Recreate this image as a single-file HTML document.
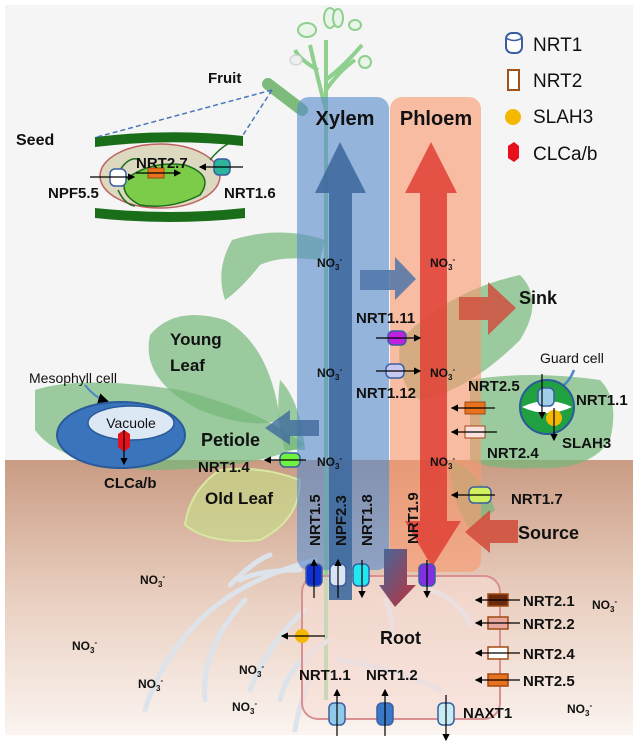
<!DOCTYPE html>
<html><head><meta charset="utf-8"><style>
html,body{margin:0;padding:0;background:#fff}
svg{display:block}
text{font-family:"Liberation Sans",sans-serif}
.b{font-weight:bold;font-size:15px;fill:#111}
.n{font-size:12px;fill:#111;font-weight:bold}
</style></head><body>
<svg width="640" height="748" viewBox="0 0 640 748" xmlns="http://www.w3.org/2000/svg">
<defs>
<linearGradient id="soil" x1="0" y1="0" x2="0" y2="1">
<stop offset="0" stop-color="#c99b83"/><stop offset="0.5" stop-color="#e9cfc0"/><stop offset="1" stop-color="#fbf4f0"/>
</linearGradient>
<linearGradient id="dn" x1="0" y1="0" x2="1" y2="1">
<stop offset="0" stop-color="#3f6a9e"/><stop offset="1" stop-color="#c0303a"/>
</linearGradient>
<marker id="ah" markerWidth="6" markerHeight="6" refX="5" refY="3" orient="auto"><path d="M0,0 L6,3 L0,6z" fill="#000"/></marker>
</defs>
<rect x="0" y="0" width="640" height="748" fill="#fff"/>
<rect x="5" y="5" width="628" height="456" fill="#f5f5f5"/>
<rect x="5" y="460" width="628" height="275" fill="url(#soil)"/>

<!-- stem & flowers -->
<g stroke="#8fd08f" stroke-width="4" fill="none">
<path d="M326,40 L326,700"/>
<path d="M326,110 Q318,80 310,45"/><path d="M326,90 Q340,70 355,60"/><path d="M326,80 Q345,65 362,45"/>
<path d="M318,70 Q300,60 295,50"/>
</g>
<g fill="#e8f5e8" stroke="#8fd08f" stroke-width="2">
<ellipse cx="307" cy="30" rx="9" ry="7"/><ellipse cx="330" cy="18" rx="6" ry="10"/><ellipse cx="338" cy="18" rx="5" ry="9"/>
<ellipse cx="355" cy="25" rx="6" ry="5"/><ellipse cx="365" cy="62" rx="6" ry="6"/>
</g>
<ellipse cx="296" cy="60" rx="6" ry="5" fill="#eee" stroke="#ccc"/>
<!-- fruit capsule -->
<path d="M268,84 L302,110" stroke="#7dbb7d" stroke-width="12" stroke-linecap="round"/>

<!-- leaves -->
<g fill="#74b878" fill-opacity="0.7">
<path d="M232,240 Q280,225 325,240 L320,260 Q280,255 260,265 Q240,290 225,300 Q215,270 232,240z"/>
<path d="M150,335 Q175,305 225,320 Q270,345 280,420 Q250,430 200,410 Q140,380 150,335z"/>
<path d="M35,390 Q80,375 180,390 Q260,410 305,445 Q250,470 150,470 Q60,465 35,430z"/>
<path d="M280,380 Q300,400 305,450 L285,450 Q275,420 280,380z"/>
<path d="M400,340 Q450,290 520,275 Q545,300 520,340 Q470,390 420,400 Q395,385 400,340z"/>
<path d="M470,380 Q530,370 600,380 Q620,400 610,440 Q590,470 540,468 Q490,470 470,460z"/>
<path d="M450,460 Q480,470 495,510 L470,530 Q450,500 450,460z"/>
</g>
<path d="M220,470 Q260,465 300,480 Q300,520 260,540 Q210,545 185,525 Q190,490 220,470z" fill="#c8d88a" fill-opacity="0.7" stroke="#d8e8a0" stroke-width="2"/>

<!-- roots -->
<g stroke="#dde3ea" stroke-width="5" fill="none" stroke-linecap="round">
<path d="M315,560 Q240,580 200,620 Q160,660 145,710"/>
<path d="M300,570 Q260,570 240,580"/>
<path d="M245,600 Q200,650 205,700"/>
<path d="M305,610 Q270,640 250,690"/>
<path d="M330,640 Q290,660 280,700"/>
<path d="M310,680 Q300,700 295,730"/>
<path d="M340,660 Q400,670 440,690"/>
<path d="M430,590 Q460,600 470,625"/>
<path d="M385,600 Q395,620 390,640"/>
<path d="M230,585 Q255,560 270,555"/>
</g>

<!-- root box -->
<rect x="302" y="576" width="198" height="143" rx="16" fill="#f8ddd6" fill-opacity="0.55" stroke="#d89090" stroke-width="2"/>

<!-- xylem / phloem -->
<rect x="297" y="97" width="92" height="473" rx="12" fill="#5b8ccc" fill-opacity="0.62"/>
<rect x="390" y="97" width="91" height="475" rx="12" fill="#fa9a70" fill-opacity="0.62"/>
<text x="345" y="125" text-anchor="middle" style="font-weight:bold;font-size:20px" fill="#111">Xylem</text>
<text x="436" y="125" text-anchor="middle" style="font-weight:bold;font-size:20px" fill="#111">Phloem</text>

<!-- blue arrow up -->
<path d="M329,600 L329,193 L315,193 L340,142 L366,193 L352,193 L352,600z" fill="#3f6a9e" fill-opacity="0.9"/>
<!-- red double arrow -->
<path d="M420,521 L420,193 L405,193 L431,142 L457,193 L447,193 L447,521 L461,521 L432,567 L405,521z" fill="#e0463a" fill-opacity="0.9"/>
<!-- horizontal blue arrow -->
<path d="M360,270 L395,270 L395,257 L416,279 L395,300 L395,290 L360,290z" fill="#4f74a8" fill-opacity="0.85"/>
<!-- sink arrow -->
<path d="M459,297 L488,297 L488,282 L516,308 L488,335 L488,320 L459,320z" fill="#d0503e" fill-opacity="0.85"/>
<!-- petiole arrow -->
<path d="M319,420 L290,420 L290,410 L265,428 L290,445 L290,436 L319,436z" fill="#3f6a9e" fill-opacity="0.8"/>
<!-- source arrow -->
<path d="M518,520 L490,520 L490,510 L465,532 L490,553 L490,543 L518,543z" fill="#d0503e" fill-opacity="0.9"/>
<!-- dark down arrow -->
<path d="M384,549 L407,549 L407,585 L416,585 L395,607 L379,585 L384,585z" fill="url(#dn)"/>

<!-- seed -->
<path d="M95,137 Q170,128 243,136 L243,146 Q170,138 95,147z" fill="#1a6e1a"/>
<path d="M95,208 Q170,216 245,208 L245,218 Q170,226 95,218z" fill="#1a6e1a"/>
<ellipse cx="160" cy="176" rx="60" ry="32" fill="#ddd8c0" stroke="#c06060" stroke-width="1.5"/>
<path d="M125,180 Q150,160 185,165 Q215,175 200,195 Q170,210 140,205 Q120,195 125,180z" fill="#7ccc4a" stroke="#1a6e1a" stroke-width="1.5"/>
<path d="M120,170 Q130,155 140,160 M118,190 Q125,205 135,206 M210,160 Q220,148 228,144" stroke="#1a6e1a" stroke-width="1.5" fill="none"/>
<line x1="272" y1="90" x2="97" y2="137" stroke="#4a78b8" stroke-width="1.5" stroke-dasharray="5,3"/>
<line x1="272" y1="90" x2="243" y2="135" stroke="#4a78b8" stroke-width="1.5" stroke-dasharray="5,3"/>
<g stroke="#3a5fa0" stroke-width="1.5">
<rect x="110" y="169" width="16" height="17" rx="5" fill="#fff"/>
<rect x="214" y="159" width="16" height="16" rx="5" fill="#2bb59a"/>
</g>
<rect x="148" y="168" width="16" height="10" fill="#e8731e" stroke="#a04a10"/>
<line x1="90" y1="177" x2="134" y2="177" stroke="#000" stroke-width="1.2" marker-end="url(#ah)"/>
<line x1="136" y1="173" x2="180" y2="173" stroke="#000" stroke-width="1.2" marker-end="url(#ah)"/>
<line x1="243" y1="167" x2="200" y2="167" stroke="#000" stroke-width="1.2" marker-end="url(#ah)"/>
<text x="16" y="145" class="b" style="font-size:16px">Seed</text>
<text x="208" y="83" class="b">Fruit</text>
<text x="136" y="168" class="b">NRT2.7</text>
<text x="48" y="198" class="b">NPF5.5</text>
<text x="224" y="198" class="b">NRT1.6</text>

<!-- legend -->
<rect x="506" y="33" width="16" height="20" rx="6" fill="#fff" stroke="#3a5fa0" stroke-width="2"/>
<path d="M506,38 Q514,43 522,38" stroke="#3a5fa0" stroke-width="1.5" fill="none"/>
<rect x="508" y="70" width="11" height="20" fill="#fff" stroke="#a0521e" stroke-width="2"/>
<circle cx="513" cy="117" r="8" fill="#f5b800"/>
<path d="M508,146 L514,142 L519,146 L519,158 L514,162 L508,158z" fill="#e8101a"/>
<g style="font-size:19px" fill="#111">
<text x="533" y="51">NRT1</text><text x="533" y="87">NRT2</text><text x="533" y="123">SLAH3</text><text x="533" y="160">CLCa/b</text>
</g>

<!-- NO3 labels -->
<g class="n">
<text x="317" y="267">NO<tspan font-size="8" dy="3">3</tspan><tspan font-size="8" dy="-8">-</tspan></text>
<text x="430" y="267">NO<tspan font-size="8" dy="3">3</tspan><tspan font-size="8" dy="-8">-</tspan></text>
<text x="317" y="377">NO<tspan font-size="8" dy="3">3</tspan><tspan font-size="8" dy="-8">-</tspan></text>
<text x="430" y="377">NO<tspan font-size="8" dy="3">3</tspan><tspan font-size="8" dy="-8">-</tspan></text>
<text x="317" y="466">NO<tspan font-size="8" dy="3">3</tspan><tspan font-size="8" dy="-8">-</tspan></text>
<text x="430" y="466">NO<tspan font-size="8" dy="3">3</tspan><tspan font-size="8" dy="-8">-</tspan></text>
<text x="140" y="584">NO<tspan font-size="8" dy="3">3</tspan><tspan font-size="8" dy="-8">-</tspan></text>
<text x="72" y="650">NO<tspan font-size="8" dy="3">3</tspan><tspan font-size="8" dy="-8">-</tspan></text>
<text x="138" y="688">NO<tspan font-size="8" dy="3">3</tspan><tspan font-size="8" dy="-8">-</tspan></text>
<text x="239" y="674">NO<tspan font-size="8" dy="3">3</tspan><tspan font-size="8" dy="-8">-</tspan></text>
<text x="232" y="711">NO<tspan font-size="8" dy="3">3</tspan><tspan font-size="8" dy="-8">-</tspan></text>
<text x="592" y="609">NO<tspan font-size="8" dy="3">3</tspan><tspan font-size="8" dy="-8">-</tspan></text>
<text x="567" y="713">NO<tspan font-size="8" dy="3">3</tspan><tspan font-size="8" dy="-8">-</tspan></text>
</g>

<!-- NRT1.11, 1.12 -->
<rect x="388" y="331" width="18" height="14" rx="5" fill="#c020e0" stroke="#3a5fa0" stroke-width="1.5"/>
<line x1="376" y1="338" x2="420" y2="338" stroke="#000" stroke-width="1.2" marker-end="url(#ah)"/>
<rect x="386" y="364" width="18" height="14" rx="5" fill="#c8c8f0" stroke="#3a5fa0" stroke-width="1.5"/>
<line x1="376" y1="371" x2="420" y2="371" stroke="#000" stroke-width="1.2" marker-end="url(#ah)"/>
<text x="356" y="323" class="b">NRT1.11</text>
<text x="356" y="398" class="b">NRT1.12</text>
<text x="519" y="304" class="b" style="font-size:18px">Sink</text>
<text x="170" y="345" class="b" style="font-size:17px">Young</text>
<text x="170" y="371" class="b" style="font-size:17px">Leaf</text>

<!-- mesophyll -->
<text x="29" y="383" style="font-size:14px" fill="#111">Mesophyll cell</text>
<path d="M85,385 Q95,398 108,402" stroke="#4a88c8" stroke-width="2" fill="none" marker-end="url(#ah)"/>
<ellipse cx="121" cy="435" rx="64" ry="33" fill="#3a74bc" stroke="#2a5a9a" stroke-width="2"/>
<ellipse cx="131" cy="423" rx="43" ry="17" fill="#dde8f5" stroke="#2a5a9a" stroke-width="1.5"/>
<text x="131" y="428" text-anchor="middle" style="font-size:14px" fill="#111">Vacuole</text>
<path d="M118,434 L124,430 L130,434 L130,447 L124,452 L118,447z" fill="#e8101a"/>
<line x1="124" y1="430" x2="124" y2="464" stroke="#000" stroke-width="1.2" marker-end="url(#ah)"/>
<text x="104" y="488" class="b">CLCa/b</text>
<text x="201" y="446" class="b" style="font-size:18px">Petiole</text>
<rect x="280" y="453" width="20" height="14" rx="5" fill="#70f040" stroke="#3a5fa0" stroke-width="1.5"/>
<line x1="306" y1="460" x2="265" y2="460" stroke="#000" stroke-width="1.2" marker-end="url(#ah)"/>
<text x="198" y="472" class="b">NRT1.4</text>
<text x="205" y="504" class="b" style="font-size:17px">Old Leaf</text>

<!-- guard cell -->
<text x="540" y="363" style="font-size:14px" fill="#111">Guard cell</text>
<path d="M574,370 Q570,380 564,385" stroke="#4a88c8" stroke-width="2.5" fill="none"/>
<circle cx="547" cy="407" r="27" fill="#20a040" stroke="#2a5a9a" stroke-width="2"/>
<path d="M522,407 Q547,395 572,407 Q547,419 522,407z" fill="#fff"/>
<rect x="538" y="388" width="16" height="18" rx="5" fill="#a0d0e8" stroke="#3a5fa0" stroke-width="1.5"/>
<circle cx="554" cy="418" r="8" fill="#f5b800"/>
<line x1="542" y1="374" x2="542" y2="418" stroke="#000" stroke-width="1.2" marker-end="url(#ah)"/>
<line x1="554" y1="408" x2="554" y2="440" stroke="#000" stroke-width="1.2" marker-end="url(#ah)"/>
<text x="576" y="405" class="b">NRT1.1</text>
<text x="562" y="448" class="b">SLAH3</text>
<rect x="465" y="402" width="20" height="12" fill="#e8731e" stroke="#a04a10"/>
<line x1="495" y1="408" x2="452" y2="408" stroke="#000" stroke-width="1.2" marker-end="url(#ah)"/>
<rect x="465" y="426" width="20" height="12" fill="#fbe0e0" stroke="#a04a10"/>
<line x1="497" y1="432" x2="452" y2="432" stroke="#000" stroke-width="1.2" marker-end="url(#ah)"/>
<text x="468" y="391" class="b">NRT2.5</text>
<text x="487" y="458" class="b">NRT2.4</text>
<rect x="469" y="487" width="22" height="16" rx="5" fill="#d0f060" stroke="#3a5fa0" stroke-width="1.5"/>
<line x1="495" y1="495" x2="452" y2="495" stroke="#000" stroke-width="1.2" marker-end="url(#ah)"/>
<text x="511" y="504" class="b">NRT1.7</text>
<text x="518" y="539" class="b" style="font-size:18px">Source</text>

<!-- vertical labels -->
<g class="b">
<text transform="translate(320,546) rotate(-90)">NRT1.5</text>
<text transform="translate(346,546) rotate(-90)">NPF2.3</text>
<text transform="translate(372,546) rotate(-90)">NRT1.8</text>
<text transform="translate(418,544) rotate(-90)">NRT1.9</text>
</g>
<!-- top cylinders -->
<g stroke="#3a5fa0" stroke-width="1.5">
<rect x="306" y="564" width="16" height="22" rx="5" fill="#1030d0"/>
<rect x="330" y="564" width="16" height="22" rx="5" fill="#d8e4f4"/>
<rect x="353" y="564" width="16" height="22" rx="5" fill="#20e8f0"/>
<rect x="419" y="564" width="16" height="22" rx="5" fill="#8030e0"/>
</g>
<line x1="314" y1="598" x2="314" y2="560" stroke="#000" stroke-width="1.2" marker-end="url(#ah)"/>
<line x1="338" y1="598" x2="338" y2="560" stroke="#000" stroke-width="1.2" marker-end="url(#ah)"/>
<line x1="362" y1="560" x2="362" y2="597" stroke="#000" stroke-width="1.2" marker-end="url(#ah)"/>
<line x1="427" y1="560" x2="427" y2="597" stroke="#000" stroke-width="1.2" marker-end="url(#ah)"/>

<!-- root -->
<text x="380" y="644" class="b" style="font-size:18px">Root</text>
<circle cx="302" cy="636" r="7" fill="#f5b800"/>
<line x1="325" y1="636" x2="282" y2="636" stroke="#000" stroke-width="1.2" marker-end="url(#ah)"/>
<g stroke="#a04a10" stroke-width="1.5">
<rect x="488" y="594" width="20" height="12" fill="#6a2a10"/>
<rect x="488" y="617" width="20" height="12" fill="#e8a8a0"/>
<rect x="488" y="647" width="20" height="12" fill="#fff"/>
<rect x="488" y="674" width="20" height="12" fill="#e8731e"/>
</g>
<g stroke="#000" stroke-width="1.2" marker-end="url(#ah)">
<line x1="520" y1="600" x2="476" y2="600"/>
<line x1="520" y1="623" x2="476" y2="623"/>
<line x1="520" y1="653" x2="476" y2="653"/>
<line x1="520" y1="680" x2="476" y2="680"/>
</g>
<text x="523" y="606" class="b">NRT2.1</text>
<text x="523" y="629" class="b">NRT2.2</text>
<text x="523" y="659" class="b">NRT2.4</text>
<text x="523" y="686" class="b">NRT2.5</text>
<text x="299" y="680" class="b">NRT1.1</text>
<text x="366" y="680" class="b">NRT1.2</text>
<g stroke="#3a5fa0" stroke-width="1.5">
<rect x="329" y="703" width="16" height="22" rx="5" fill="#90c8e8"/>
<rect x="377" y="703" width="16" height="22" rx="5" fill="#3a78c8"/>
<rect x="438" y="703" width="16" height="22" rx="5" fill="#c8ecf4"/>
</g>
<line x1="337" y1="736" x2="337" y2="690" stroke="#000" stroke-width="1.2" marker-end="url(#ah)"/>
<line x1="385" y1="736" x2="385" y2="690" stroke="#000" stroke-width="1.2" marker-end="url(#ah)"/>
<line x1="446" y1="695" x2="446" y2="740" stroke="#000" stroke-width="1.2" marker-end="url(#ah)"/>
<text x="463" y="718" class="b">NAXT1</text>
</svg>
</body></html>
